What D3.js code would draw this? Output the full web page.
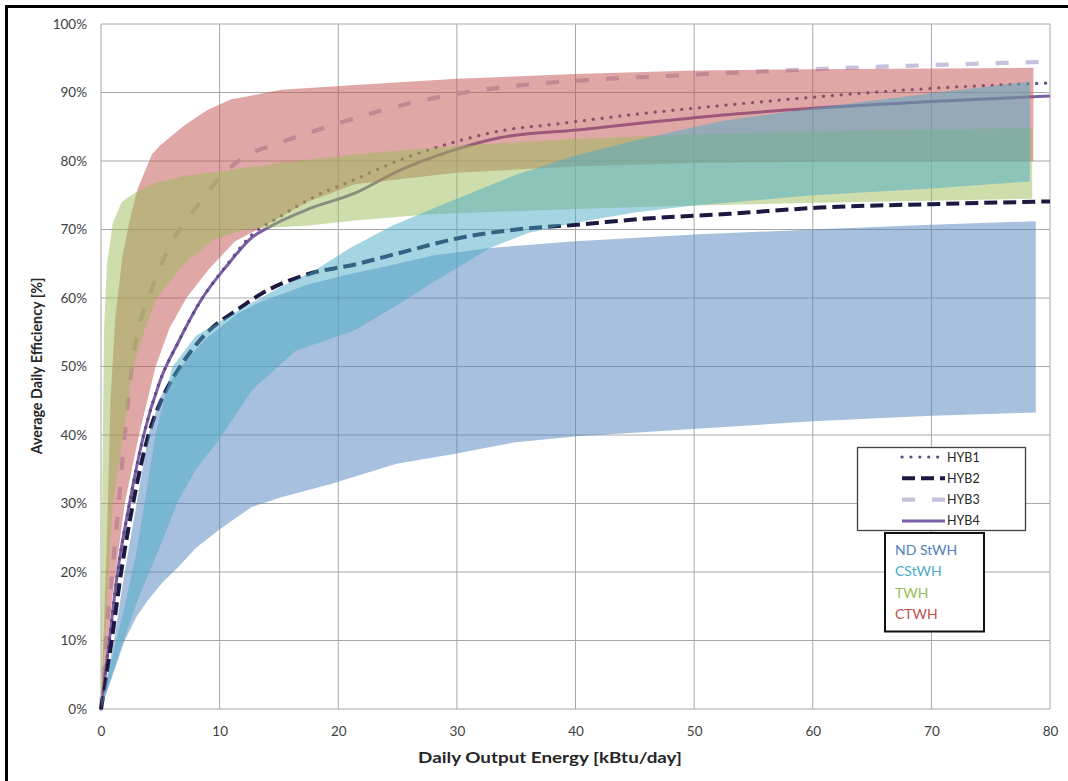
<!DOCTYPE html>
<html>
<head>
<meta charset="utf-8">
<script src="https://cdn.jsdelivr.net/npm/d3@7"></script>
<style>
  body { margin: 0; background: #fff; }
  svg { display: block; font-family: Lato, "Open Sans", sans-serif; }
</style>
</head>
<body>
<div id="chart"></div>
<script>
// efficiency bands, [x kBtu/day, y %] — upper edge and lower edge
const ND_UPPER = [[0,0],[1.1,10],[2,20],[3,30],[4,40],[5,45.5],[6.5,49.5],[8.8,54],[11.6,57.8],[13.5,59.5],[17.5,62],[21,63.5],[25,65],[28,66.2],[32.8,67.3],[40,68.3],[50.5,69.3],[60,70],[70,70.7],[78.8,71.2]];
const ND_LOWER = [[0,0],[1,5],[2,10],[3,13.5],[4,16],[5.2,18.5],[6.5,20.7],[8,23.5],[9.9,26.1],[12.7,29.5],[15.2,30.9],[19.3,32.8],[24.9,35.8],[30,37.3],[34.8,38.9],[40.1,39.8],[44.6,40.3],[50.2,40.9],[60,42],[70,42.8],[78.8,43.3]];

const CST_UPPER = [[0,0],[1,8],[2,15],[3,23],[3.7,30.4],[4.6,40.2],[6,49.9],[8,54.5],[12,58.6],[15,61.5],[18,64],[21,67.3],[24.5,70.5],[28.6,73.5],[35,78],[40,80.8],[45,83],[52.2,85.8],[60,87.7],[70,89.9],[78.3,91.6]];
const CST_LOWER = [[0,0],[1.5,8],[3.1,16],[4.8,23],[6.5,30.4],[8,35],[9.9,39.2],[12.7,46.5],[16.4,52.3],[21.4,55.3],[25,59],[28,62.3],[32.8,67.3],[36,69.5],[40,71],[45,72.5],[50,73.5],[60,75],[70,76],[78.3,77]];

const TWH_UPPER = [[0,0],[0.1,30],[0.25,55],[0.5,65],[1,71],[1.75,74],[2.9,75.4],[4.55,76.8],[7,77.8],[10.2,78.5],[15,79.7],[21.4,81],[30,82.2],[40,83.2],[50,83.9],[60,84.3],[78.5,84.8]];
const TWH_LOWER = [[0,0],[0.5,16],[1,30],[1.9,40],[2.7,50],[3.8,56],[4.7,60],[7,65],[9.5,68.5],[12,70],[17.5,70.6],[21.4,71.3],[27.5,72.2],[40,73],[50,73.5],[60,73.9],[70,74.2],[78.5,74.5]];

const CTWH_UPPER = [[0,0],[0.5,25],[0.8,45],[1.2,57],[1.8,66],[2.5,72],[3.1,76],[4.3,81],[5,82.3],[7.1,85.3],[9,87.5],[11,89],[15.2,90.4],[21.4,91.1],[30,92],[40,92.7],[50,93.2],[60,93.4],[78.6,93.6]];
const CTWH_LOWER = [[0,0],[1,17],[2,30],[3.2,40],[4.6,50],[5.8,55.7],[7.2,60],[9,64],[11.3,68.3],[13.5,70.3],[17.5,74.1],[21.4,76.6],[30,78.3],[40,79.2],[50,79.7],[60,79.9],[78.6,80]];

// hybrid model curves
const HYB1 = [[0,0],[0.7,10],[1.4,20],[2.4,30],[3.6,40],[5,48],[6.5,53.5],[8.4,59.6],[10.7,65],[12.7,69.2],[15,71.8],[18,74.8],[21.4,77.3],[25,80],[30.3,83],[34,84.5],[37.9,85.3],[45,86.8],[53,88.2],[60,89.3],[70,90.6],[80,91.4]];
const HYB2 = [[0,0],[0.9,10],[1.7,20],[2.7,30],[4,40],[5.2,45.5],[6.5,49.5],[8.8,54.7],[11.6,58.4],[13.5,60.6],[17.5,63.5],[21.4,64.9],[25,66.5],[30.3,68.8],[35,70],[40.1,70.7],[46,71.6],[53,72.3],[60.6,73.2],[70,73.7],[80,74.1]];
const HYB3 = [[0,0],[0.5,12],[1,21],[1.5,30],[2,40],[2.6,50],[3.1,55],[4,60],[5,64.5],[6,68.3],[7.5,72],[8.8,75],[10,77.5],[11,79.2],[12,80.5],[15,82.6],[20,85.5],[25,88],[30,89.8],[35,91],[40,91.7],[50,92.6],[60,93.4],[70,94],[80,94.5]];
const HYB4 = [[0,0],[0.7,10],[1.4,20],[2.4,30],[3.6,40],[5,48],[6.5,53.5],[8.4,59.6],[10.7,64.9],[12.7,68.8],[14.1,70.3],[17.5,73],[21.4,75.3],[25,78.5],[29.4,81.4],[33.6,83.4],[40.6,84.6],[47,85.8],[53,86.8],[60,87.7],[70,88.7],[80,89.5]];

const X_TICKS = [0, 10, 20, 30, 40, 50, 60, 70, 80];
const Y_TICKS = [0, 10, 20, 30, 40, 50, 60, 70, 80, 90, 100];

const BAND_NAMES = ["ND StWH", "CStWH", "TWH", "CTWH"];
const BAND_COLORS = { "ND StWH": "#4f81bd", "CStWH": "#4bacc6", "TWH": "#9bbb59", "CTWH": "#c0504d" };
const LINE_NAMES = ["HYB1", "HYB2", "HYB3", "HYB4"];

const W = 1068, H = 781;
const svg = d3.select("#chart").append("svg").attr("width", W).attr("height", H);

const x = d3.scaleLinear().domain([0, 80]).range([101, 1050]);
const y = d3.scaleLinear().domain([0, 100]).range([709, 24]);

// outer frame (right and bottom sides fall outside the picture)
svg.append("rect").attr("x", 6.5).attr("y", 6.5).attr("width", 1080).attr("height", 790)
  .attr("fill", "none").attr("stroke", "#000").attr("stroke-width", 3);

// gridlines
const grid = svg.append("g");
grid.selectAll(".gx").data(X_TICKS).enter().append("line")
  .attr("x1", d => x(d)).attr("x2", d => x(d)).attr("y1", y(0)).attr("y2", y(100))
  .attr("stroke", "#a8a8a8").attr("stroke-width", 1);
grid.selectAll(".gy").data(Y_TICKS).enter().append("line")
  .attr("x1", x(0)).attr("x2", x(80)).attr("y1", d => y(d)).attr("y2", d => y(d))
  .attr("stroke", "#a8a8a8").attr("stroke-width", 1);

// lines go under the translucent bands, like the original
const lineGen = d3.line().x(d => x(d[0])).y(d => y(d[1])).curve(d3.curveMonotoneX);
const lineStyles = {
  HYB1: { stroke: "#5f4a85", width: 3.2, dash: "0.1,8.8", cap: "round", data: HYB1 },
  HYB2: { stroke: "#1c1940", width: 4, dash: "13,6", cap: "butt", data: HYB2 },
  HYB3: { stroke: "#c8c0dc", width: 4.2, dash: "13,17", cap: "butt", data: HYB3 },
  HYB4: { stroke: "#7b5fa6", width: 3, dash: null, cap: "butt", data: HYB4 }
};
["HYB3", "HYB4", "HYB1", "HYB2"].forEach(k => {
  const s = lineStyles[k];
  svg.append("path").datum(s.data).attr("d", lineGen)
    .attr("fill", "none").attr("stroke", s.stroke).attr("stroke-width", s.width)
    .attr("stroke-dasharray", s.dash).attr("stroke-linecap", s.cap);
});

// bands: polygon = upper edge forward, lower edge back
const polyGen = d3.line().x(d => x(d[0])).y(d => y(d[1])).curve(d3.curveLinearClosed);
function band(upper, lower, col) {
  const pts = upper.concat(lower.slice().reverse());
  svg.append("path").datum(pts).attr("d", polyGen)
    .attr("fill", col).attr("fill-opacity", 0.5).attr("stroke", "none");
}
band(ND_UPPER, ND_LOWER, BAND_COLORS["ND StWH"]);
band(CTWH_UPPER, CTWH_LOWER, BAND_COLORS["CTWH"]);
band(TWH_UPPER, TWH_LOWER, BAND_COLORS["TWH"]);
band(CST_UPPER, CST_LOWER, BAND_COLORS["CStWH"]);

// axes
const axX = svg.append("g").attr("transform", `translate(0,${y(0)})`)
  .call(d3.axisBottom(x).tickValues(X_TICKS).tickSize(0).tickPadding(17));
axX.select(".domain").remove();
axX.selectAll("text").style("font-size", "13.5px").style("fill", "#404040").style("font-family", "Lato");

const axY = svg.append("g").attr("transform", `translate(${x(0)},0)`)
  .call(d3.axisLeft(y).tickValues(Y_TICKS).tickFormat(d => d + "%").tickSize(0).tickPadding(14));
axY.select(".domain").remove();
axY.selectAll("text").style("font-size", "13.5px").style("fill", "#404040").style("font-family", "Lato");

// x title is stretched wide in the original
svg.append("text").attr("transform", "translate(550,763) scale(1.3,1)").attr("text-anchor", "middle")
  .style("font-size", "14.5px").style("font-weight", "700").style("fill", "#262626")
  .text("Daily Output Energy [kBtu/day]");

svg.append("text").attr("transform", "translate(42,366) rotate(-90)").attr("text-anchor", "middle")
  .style("font-size", "14.3px").style("font-weight", "700").style("fill", "#262626")
  .text("Average Daily Efficiency [%]");

// legend for the hybrid lines
const leg1 = svg.append("g");
leg1.append("rect").attr("x", 857.5).attr("y", 447.5).attr("width", 168).attr("height", 83)
  .attr("fill", "#fff").attr("stroke", "#404040").attr("stroke-width", 1.3);
LINE_NAMES.forEach((k, i) => {
  const s = lineStyles[k];
  const ly = 457 + i * 21.3;
  leg1.append("line").attr("x1", 902).attr("x2", 945).attr("y1", ly).attr("y2", ly)
    .attr("stroke", s.stroke).attr("stroke-width", s.width)
    .attr("stroke-dasharray", s.dash).attr("stroke-linecap", s.cap);
  leg1.append("text").attr("x", 947).attr("y", ly + 4.5)
    .style("font-size", "12.5px").style("fill", "#262626").text(k);
});

// legend for the measured bands
const leg2 = svg.append("g");
leg2.append("rect").attr("x", 885).attr("y", 533).attr("width", 99).attr("height", 98.5)
  .attr("fill", "#fff").attr("stroke", "#111").attr("stroke-width", 2);
BAND_NAMES.forEach((k, i) => {
  leg2.append("text").attr("x", 895).attr("y", 555 + i * 21.4)
    .style("font-size", "14px").style("fill", BAND_COLORS[k]).text(k);
});
</script>
</body>
</html>
